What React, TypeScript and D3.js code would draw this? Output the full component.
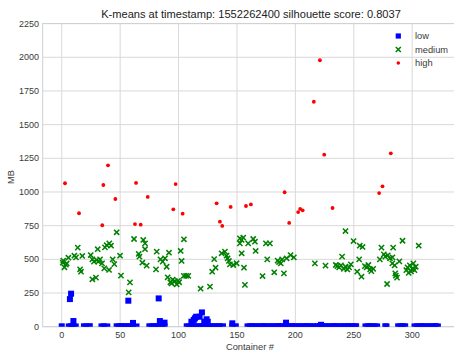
import React from "react";
import * as d3 from "d3";

const TITLE = "K-means at timestamp: 1552262400 silhouette score: 0.8037";
const X_LABEL = "Container #";
const Y_LABEL = "MB";
const xTicks = [0, 50, 100, 150, 200, 250, 300];
const yTicks = [0, 250, 500, 750, 1000, 1250, 1500, 1750, 2000, 2250];
const seriesNames = ["low", "medium", "high"];
const seriesColors = ["#0000ff", "#008000", "#ff0000"];

// low cluster: [container, MB]
const lowPoints: [number, number][] = [
  [0, 3], [6, 2], [8, 4], [10, 3], [12, 2], [19, 3], [21, 2], [24, 4], [34, 2], [36, 3], [39, 2],
  [47, 3], [49, 2], [51, 4], [53, 3], [55, 2], [57, 3], [59, 2], [61, 3], [64, 2],
  [75, 3], [77, 2], [79, 4], [81, 3], [83, 2], [86, 3], [88, 2],
  [107, 3], [109, 2], [111, 4], [113, 3], [115, 2], [117, 3], [119, 2], [121, 3], [123, 4], [125, 2],
  [127, 3], [129, 2], [131, 3], [133, 2], [135, 4], [138, 3], [146, 2], [149, 3],
  [159, 2], [161, 3], [163, 4], [165, 2], [167, 3], [169, 2], [171, 3], [173, 4], [175, 2], [177, 3],
  [179, 2], [181, 3], [183, 2], [185, 4], [187, 3], [189, 2], [191, 3], [193, 2], [195, 3], [197, 4],
  [199, 2], [201, 3], [203, 2], [205, 3], [207, 2], [209, 4], [211, 3], [213, 2], [215, 3], [217, 2],
  [219, 3], [221, 4], [223, 2], [225, 3], [227, 2], [229, 3], [231, 2], [233, 4], [235, 3], [237, 2],
  [239, 3], [241, 2], [243, 3], [245, 4], [247, 2], [249, 3], [251, 2], [252, 3],
  [260, 2], [262, 3], [264, 4], [266, 2], [268, 3], [270, 2], [277, 3], [278, 2],
  [288, 3], [290, 2], [292, 4], [294, 3],
  [302, 2], [304, 3], [306, 2], [308, 4], [310, 3], [312, 2], [314, 3], [316, 2], [318, 3], [320, 4], [322, 2],
  [8, 245], [7, 205], [10, 42], [57, 193], [61, 28], [83, 210], [84, 42], [88, 30],
  [111, 37], [113, 50], [114, 62], [115, 74], [118, 74], [120, 106], [122, 37], [124, 55], [125, 37],
  [146, 25], [192, 30], [222, 14],
];

// medium cluster: [container, MB]
const mediumPoints: [number, number][] = [
  [0.9, 475], [1.3, 490], [2.3, 441], [3.5, 460], [4.3, 470], [5.7, 512], [10.8, 527], [12.2, 515],
  [13.7, 587], [15.7, 426], [16.5, 408], [17.6, 525], [24.8, 532], [26.2, 500], [27.6, 483], [29.9, 495],
  [31.3, 483], [30.8, 575], [32.8, 500], [26.2, 352], [29.3, 364], [34.5, 470], [37.0, 589], [38.5, 605],
  [40.7, 619], [42.2, 601], [36.4, 433], [40.5, 421], [43.6, 500], [45.0, 465], [47.0, 701], [49.9, 527],
  [50.7, 379], [57.3, 255], [58.4, 329], [61.9, 651], [66.5, 520], [69.8, 644], [71.3, 619], [71.3, 575],
  [65.9, 540], [69, 475], [72.7, 453], [81.3, 557], [80.7, 426], [84.5, 500], [86.4, 483], [88.4, 508],
  [89.8, 445], [90.7, 367], [91.8, 549], [93, 330], [94.1, 322], [95, 350], [96.9, 339], [98.4, 315],
  [99.5, 340], [100.5, 330], [101.8, 562], [102.6, 488], [104.6, 649], [104.5, 378], [106.5, 378],
  [108.3, 378], [118.9, 282], [126.9, 297], [128.8, 408], [131.7, 438], [130.5, 502], [136.9, 545],
  [139.7, 557], [141.1, 527], [142, 508], [143.1, 488], [144, 463], [146.8, 458], [149.7, 471],
  [152.5, 656], [154, 644], [152.5, 619], [155.4, 661], [159.6, 619], [163.9, 651], [165.4, 631],
  [166, 562], [154, 545], [156, 438], [156.8, 310], [174.8, 619], [178.2, 619], [175.9, 500],
  [171.9, 376], [181.9, 404], [184.8, 490], [186, 480], [187.5, 470], [188.7, 500], [190.2, 396],
  [192.5, 508], [195.9, 532], [198.7, 515], [216.7, 470], [225.8, 453], [234.6, 458], [236, 450],
  [237.5, 440], [239, 455], [240, 520], [241.5, 430], [243, 445], [244.5, 425], [246, 440], [242.9, 710],
  [247.5, 463], [249.8, 636], [252.9, 408], [254.6, 500], [255.1, 601], [257.5, 592], [256.6, 371],
  [259.5, 450], [261, 440], [262.5, 458], [264, 425], [265, 413], [266.6, 430], [272.3, 500], [273.7, 587],
  [275.7, 537], [277, 520], [279, 530], [281, 508], [283.1, 515], [283.7, 587], [283, 470], [285, 455],
  [286, 380], [287, 364], [285.5, 396], [289, 485], [278.5, 317], [291.7, 638], [295, 420], [296, 440],
  [297, 400], [298, 455], [299, 410], [300, 430], [301, 470], [302, 420], [303, 445], [305.6, 601],
];

// high cluster: [container, MB]
const highPoints: [number, number][] = [
  [2.8, 1065], [14.8, 842], [39.6, 1198], [35.6, 1052], [34.7, 753], [45.9, 948], [63.6, 1067],
  [73.6, 963], [62.7, 762], [67.6, 757], [97.5, 1059], [95.5, 871], [103.5, 839], [132.6, 916],
  [144.6, 889], [135.4, 780], [137.4, 748], [157.7, 896], [161.9, 908], [190.8, 998], [194.7, 770],
  [202.4, 851], [204.1, 874], [206.2, 864], [221, 1978], [215.8, 1670], [224.7, 1277], [231.8, 881],
  [271.7, 992], [274.6, 1042], [281.7, 1287],
];

const W = 454;
const H = 352;
const plot = { left: 42.7, right: 461.6, top: 23.6, bottom: 326.7 };
const FONT = "'Liberation Sans', Arial, sans-serif";
const TEXT = "#3a3a3a";

function XMark({ cx, cy, s, color }: { cx: number; cy: number; s: number; color: string }) {
  return (
    <g stroke={color} strokeWidth={1.5}>
      <line x1={cx - s} y1={cy - s} x2={cx + s} y2={cy + s} />
      <line x1={cx - s} y1={cy + s} x2={cx + s} y2={cy - s} />
    </g>
  );
}

export default function App() {
  const x = d3.scaleLinear().domain([-16.3, 342.3]).range([plot.left, plot.right]);
  const y = d3.scaleLinear().domain([0, 2250]).range([plot.bottom, plot.top]);
  const sq = 6;
  const legendY = [36, 49.5, 63];

  return (
    <svg width={W} height={H} style={{ position: "absolute", left: 0, top: 0, background: "#fff" }} fontFamily={FONT}>
      <defs>
        <clipPath id="plotclip">
          <rect x={plot.left} y={plot.top} width={plot.right - plot.left} height={plot.bottom - plot.top} />
        </clipPath>
      </defs>
      <rect x={0} y={0} width={W} height={H} fill="#fff" />
      {/* grid */}
      {yTicks.map((t) => (
        <line key={"gy" + t} x1={plot.left} x2={plot.right} y1={y(t)} y2={y(t)} stroke="#d9d9d9" strokeWidth={1} />
      ))}
      {xTicks.map((t) => (
        <line key={"gx" + t} x1={x(t)} x2={x(t)} y1={plot.top} y2={plot.bottom} stroke="#d9d9d9" strokeWidth={1} />
      ))}
      <rect x={plot.left} y={plot.top} width={plot.right - plot.left} height={plot.bottom - plot.top} fill="none" stroke="#d0d0d0" strokeWidth={1} />
      {/* points */}
      <g clipPath="url(#plotclip)">
        {lowPoints.map((p, i) => (
          <rect key={"l" + i} x={x(p[0]) - sq / 2} y={y(p[1]) - sq / 2} width={sq} height={sq} fill={seriesColors[0]} />
        ))}
        {mediumPoints.map((p, i) => (
          <XMark key={"m" + i} cx={x(p[0])} cy={y(p[1])} s={2.6} color={seriesColors[1]} />
        ))}
        {highPoints.map((p, i) => (
          <circle key={"h" + i} cx={x(p[0])} cy={y(p[1])} r={1.9} fill={seriesColors[2]} />
        ))}
      </g>
      {/* tick labels */}
      {yTicks.map((t) => (
        <text key={"ty" + t} x={39} y={y(t)} dy="0.35em" textAnchor="end" fontSize={9} fill={TEXT}>
          {t}
        </text>
      ))}
      {xTicks.map((t) => (
        <text key={"tx" + t} x={x(t)} y={337.5} textAnchor="middle" fontSize={9} fill={TEXT}>
          {t}
        </text>
      ))}
      <text x={250} y={349.5} textAnchor="middle" fontSize={9.3} fill={TEXT}>
        {X_LABEL}
      </text>
      <text transform={`translate(13.5,${(plot.top + plot.bottom) / 2 + 2}) rotate(-90)`} textAnchor="middle" fontSize={9.3} fill={TEXT}>
        {Y_LABEL}
      </text>
      <text x={251} y={18} textAnchor="middle" fontSize={11.1} fill="#222">
        {TITLE}
      </text>
      {/* legend */}
      {seriesNames.map((n, i) => (
        <g key={n}>
          {i === 0 && <rect x={398.3 - 2.6} y={legendY[i] - 2.6} width={5.2} height={5.2} fill={seriesColors[0]} />}
          {i === 1 && <XMark cx={398.3} cy={legendY[i]} s={2.5} color={seriesColors[1]} />}
          {i === 2 && <circle cx={398.3} cy={legendY[i]} r={1.8} fill={seriesColors[2]} />}
          <text x={415} y={legendY[i]} dy="0.35em" fontSize={9.3} fill={TEXT}>
            {n}
          </text>
        </g>
      ))}
    </svg>
  );
}
